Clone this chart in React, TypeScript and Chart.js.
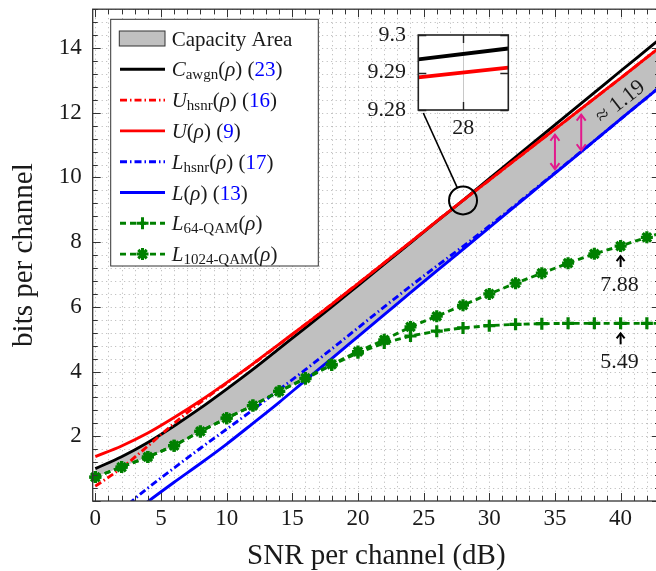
import React, { useEffect, useRef } from 'react';
import { Chart, registerables } from 'chart.js';

Chart.register(...registerables);

// ---------------- data ----------------
const snrDb = [0, 2, 4, 6, 8, 10, 12, 14, 16, 18, 20, 22, 24, 26, 28, 30, 32, 34, 36, 38, 40, 42, 44];
const cAwgn = [1.0, 1.37, 1.81, 2.32, 2.87, 3.46, 4.07, 4.71, 5.35, 6.0, 6.66, 7.32, 7.98, 8.64, 9.295, 9.96, 10.63, 11.29, 11.96, 12.62, 13.29, 13.95, 14.61];
const uBound = [1.37, 1.7, 2.1, 2.58, 3.1, 3.66, 4.24, 4.85, 5.46, 6.08, 6.72, 7.36, 8.0, 8.65, 9.289, 9.92, 10.55, 11.18, 11.81, 12.44, 13.07, 13.71, 14.34];
const uHsnr = [0.46, 1.02, 1.7, 2.4, 3.05, 3.64, 4.23, 4.84, 5.46, 6.08, 6.72, 7.36, 8.0, 8.65, 9.289, 9.92, 10.55, 11.18, 11.81, 12.44, 13.07, 13.71, 14.34];
const lHsnr = [-0.95, -0.27, 0.4, 1.02, 1.63, 2.22, 2.82, 3.44, 4.06, 4.7, 5.35, 6.0, 6.64, 7.26, 7.87, 8.5, 9.15, 9.81, 10.47, 11.13, 11.8, 12.47, 13.13];
const lBound = [-1.4, -0.66, -0.02, 0.58, 1.16, 1.76, 2.4, 3.05, 3.73, 4.4, 5.08, 5.76, 6.44, 7.11, 7.78, 8.45, 9.12, 9.79, 10.46, 11.13, 11.8, 12.47, 13.13];
const qam64 = [0.74, 1.05, 1.36, 1.71, 2.15, 2.56, 2.95, 3.39, 3.78, 4.2, 4.58, 4.88, 5.1, 5.25, 5.35, 5.42, 5.46, 5.48, 5.49, 5.49, 5.49, 5.49, 5.49];
const qam1024 = [0.74, 1.05, 1.36, 1.71, 2.15, 2.56, 2.95, 3.39, 3.8, 4.22, 4.62, 4.98, 5.38, 5.71, 6.05, 6.4, 6.73, 7.04, 7.35, 7.64, 7.88, 8.15, 8.4];

const xTickValues = [0, 5, 10, 15, 20, 25, 30, 35, 40];
const yTickValues = [2, 4, 6, 8, 10, 12, 14];

// inset (zoom at 28 dB)
const insetX = [27.995, 28.005];
const insetC = [9.2935, 9.2964];
const insetU = [9.2887, 9.2913];
const insetXTicks = [28];
const insetYTicks = [9.28, 9.29, 9.3];
const zoomPoint = { x: 28, y: 9.29 };

// annotations
const gapX = [35, 37];
const gapTop = [11.32, 11.94];
const gapBottom = [10.26, 10.84];
const gapLabel = '≈ 1.19';
const gapLabelAt = { x: 40, y: 12.33 };
const calloutX = [40, 40];
const calloutY = [7.88, 5.49];
const calloutText = ['7.88', '5.49'];

// ---------------- style ----------------
const SERIF = "'Liberation Serif', 'DejaVu Serif', serif";
const TEXT = '#1a1a1a';
const AXIS = '#333333';
const GRID = '#b4b4b4';
const GREEN = '#008000';
const RED = '#ff0000';
const BLUE = '#0000ff';
const BLACK = '#000000';
const AREA = '#c0c0c0';
const MAGENTA = '#e2198c';
const DASHDOT = [7, 3, 1.5, 3];
const DASHED = [6, 4];
const LW = 2.9;

const W = 670;
const H = 571;
const INSET = { left: 350, top: 15, width: 170, height: 135, boxL: 68.3, boxR: 158.3, boxT: 20, boxB: 95 };

const pts = (arr: number[]) => snrDb.map((x, i) => ({ x, y: arr[i] }));

type Seg = { t: string; f: string; c?: string; dy?: number };
function drawRich(ctx: CanvasRenderingContext2D, x: number, y: number, segs: Seg[]) {
  let cx = x;
  for (const s of segs) {
    ctx.font = s.f;
    ctx.fillStyle = s.c || TEXT;
    ctx.fillText(s.t, cx, y + (s.dy || 0));
    cx += ctx.measureText(s.t).width;
  }
}

function drawPlus(ctx: CanvasRenderingContext2D, x: number, y: number, r: number) {
  ctx.beginPath();
  ctx.moveTo(x - r, y); ctx.lineTo(x + r, y);
  ctx.moveTo(x, y - r); ctx.lineTo(x, y + r);
  ctx.stroke();
}
function drawStar(ctx: CanvasRenderingContext2D, x: number, y: number, r: number) {
  drawPlus(ctx, x, y, r);
  const d = r * Math.SQRT1_2;
  ctx.beginPath();
  ctx.moveTo(x - d, y - d); ctx.lineTo(x + d, y + d);
  ctx.moveTo(x - d, y + d); ctx.lineTo(x + d, y - d);
  ctx.stroke();
}

function arrowHead(ctx: CanvasRenderingContext2D, x: number, y: number, dir: number, len: number, half: number) {
  ctx.beginPath();
  ctx.moveTo(x - half, y - dir * len);
  ctx.lineTo(x, y);
  ctx.lineTo(x + half, y - dir * len);
  ctx.stroke();
}

const mainPlugin = {
  id: 'paperLook',
  beforeDraw(chart: any) {
    const { ctx, chartArea: a, scales } = chart;
    const xs = scales.x, ys = scales.y;
    ctx.save();
    ctx.fillStyle = '#ffffff';
    ctx.fillRect(0, 0, chart.width, chart.height);
    ctx.strokeStyle = GRID;
    ctx.lineWidth = 1;
    ctx.setLineDash([1, 3.5]);
    for (let v = 0; v <= 43; v += 1) {
      const px = Math.round(xs.getPixelForValue(v)) + 0.5;
      ctx.beginPath(); ctx.moveTo(px, a.top); ctx.lineTo(px, a.bottom); ctx.stroke();
    }
    for (let k = 1; k <= 38; k++) {
      const py = Math.round(ys.getPixelForValue(k * 0.4)) + 0.5;
      ctx.beginPath(); ctx.moveTo(a.left, py); ctx.lineTo(a.right, py); ctx.stroke();
    }
    ctx.restore();
  },
  afterDatasetsDraw(chart: any) {
    const { ctx, chartArea: a, scales } = chart;
    const xs = scales.x, ys = scales.y;
    ctx.save();
    ctx.strokeStyle = AXIS;
    ctx.lineWidth = 1;
    ctx.setLineDash([]);
    for (let v = 0; v <= 43; v += 1) {
      const len = v % 5 === 0 ? 8 : 5;
      const px = Math.round(xs.getPixelForValue(v)) + 0.5;
      ctx.beginPath();
      ctx.moveTo(px, a.bottom); ctx.lineTo(px, a.bottom - len);
      ctx.moveTo(px, a.top); ctx.lineTo(px, a.top + len);
      ctx.stroke();
    }
    for (let k = 0; k <= 38; k++) {
      const len = k % 5 === 0 ? 8 : 5;
      const py = Math.round(ys.getPixelForValue(k * 0.4)) + 0.5;
      ctx.beginPath();
      ctx.moveTo(a.left, py); ctx.lineTo(a.left + len, py);
      ctx.moveTo(a.right, py); ctx.lineTo(a.right - len, py);
      ctx.stroke();
    }
    ctx.lineWidth = 1.3;
    ctx.strokeRect(a.left, a.top, a.right - a.left, a.bottom - a.top);
    ctx.restore();
  },
  afterDraw(chart: any) {
    const { ctx, scales } = chart;
    const xs = scales.x, ys = scales.y;
    ctx.save();
    // zoom circle + connector
    const cx = xs.getPixelForValue(zoomPoint.x), cy = ys.getPixelForValue(zoomPoint.y);
    const r = 14;
    ctx.strokeStyle = BLACK;
    ctx.lineWidth = 2;
    ctx.beginPath(); ctx.arc(cx, cy, r, 0, Math.PI * 2); ctx.stroke();
    const sx = INSET.left + INSET.boxL + 5, sy = INSET.top + INSET.boxB + 3;
    const dx = sx - cx, dy = sy - cy, dl = Math.hypot(dx, dy);
    ctx.lineWidth = 1.6;
    ctx.beginPath(); ctx.moveTo(sx, sy); ctx.lineTo(cx + (dx / dl) * r, cy + (dy / dl) * r); ctx.stroke();

    // gap arrows
    ctx.strokeStyle = MAGENTA;
    ctx.lineWidth = 2;
    for (let i = 0; i < gapX.length; i++) {
      const px = xs.getPixelForValue(gapX[i]);
      const y1 = ys.getPixelForValue(gapTop[i]);
      const y2 = ys.getPixelForValue(gapBottom[i]);
      ctx.beginPath(); ctx.moveTo(px, y1); ctx.lineTo(px, y2); ctx.stroke();
      arrowHead(ctx, px, y1, -1, 6, 4.5);
      arrowHead(ctx, px, y2, 1, 6, 4.5);
    }
    // gap label rotated along the band
    const ang = Math.atan2(ys.getPixelForValue(uBound[21]) - ys.getPixelForValue(uBound[19]),
      xs.getPixelForValue(snrDb[21]) - xs.getPixelForValue(snrDb[19]));
    ctx.translate(xs.getPixelForValue(gapLabelAt.x), ys.getPixelForValue(gapLabelAt.y));
    ctx.rotate(ang);
    ctx.font = `22px ${SERIF}`;
    ctx.fillStyle = TEXT;
    ctx.textAlign = 'center';
    ctx.textBaseline = 'middle';
    ctx.fillText(gapLabel, 0, 0);
    ctx.setTransform(1, 0, 0, 1, 0, 0);

    // callouts
    ctx.strokeStyle = BLACK;
    ctx.lineWidth = 2;
    for (let i = 0; i < calloutX.length; i++) {
      const px = xs.getPixelForValue(calloutX[i]);
      const py = ys.getPixelForValue(calloutY[i]);
      ctx.beginPath(); ctx.moveTo(px, py + 21); ctx.lineTo(px, py + 10); ctx.stroke();
      arrowHead(ctx, px, py + 10, -1, 5, 4);
      ctx.font = `22px ${SERIF}`;
      ctx.fillStyle = TEXT;
      ctx.textAlign = 'center';
      ctx.textBaseline = 'middle';
      ctx.fillText(calloutText[i], px - 1, py + 39);
    }

    // legend
    const L = 110.7, T = 19.3, R = 318.3, B = 266;
    ctx.fillStyle = '#ffffff';
    ctx.fillRect(L, T, R - L, B - T);
    ctx.strokeStyle = AXIS;
    ctx.lineWidth = 1;
    ctx.strokeRect(L, T, R - L, B - T);
    const rowY = (i: number) => 38.5 + 30.8 * i;
    const x0 = 120, x1 = 165, tx = 171.7;
    const RF = `21px ${SERIF}`, IF = `italic 21px ${SERIF}`, SF = `15px ${SERIF}`;
    ctx.textAlign = 'left';
    ctx.textBaseline = 'alphabetic';
    ctx.fillStyle = AREA;
    ctx.fillRect(119.3, rowY(0) - 7.5, 45.7, 15);
    ctx.strokeStyle = AXIS;
    ctx.strokeRect(119.3, rowY(0) - 7.5, 45.7, 15);
    drawRich(ctx, tx, rowY(0) + 7, [{ t: 'Capacity Area', f: RF }]);
    const lineRow = (i: number, color: string, dash: number[]) => {
      ctx.strokeStyle = color; ctx.lineWidth = LW; ctx.setLineDash(dash);
      ctx.beginPath(); ctx.moveTo(x0, rowY(i)); ctx.lineTo(x1, rowY(i)); ctx.stroke();
      ctx.setLineDash([]);
    };
    const tail = (ref: string): Seg[] => [
      { t: '(', f: RF }, { t: 'ρ', f: IF }, { t: ')', f: RF },
      ...(ref ? [{ t: ' (', f: RF }, { t: ref, f: RF, c: BLUE }, { t: ')', f: RF }] : []),
    ];
    lineRow(1, BLACK, []);
    drawRich(ctx, tx, rowY(1) + 7, [{ t: 'C', f: IF }, { t: 'awgn', f: SF, dy: 3 }, ...tail('23')]);
    lineRow(2, RED, DASHDOT);
    drawRich(ctx, tx, rowY(2) + 7, [{ t: 'U', f: IF }, { t: 'hsnr', f: SF, dy: 3 }, ...tail('16')]);
    lineRow(3, RED, []);
    drawRich(ctx, tx, rowY(3) + 7, [{ t: 'U', f: IF }, ...tail('9')]);
    lineRow(4, BLUE, DASHDOT);
    drawRich(ctx, tx, rowY(4) + 7, [{ t: 'L', f: IF }, { t: 'hsnr', f: SF, dy: 3 }, ...tail('17')]);
    lineRow(5, BLUE, []);
    drawRich(ctx, tx, rowY(5) + 7, [{ t: 'L', f: IF }, ...tail('13')]);
    lineRow(6, GREEN, DASHED);
    ctx.strokeStyle = GREEN; ctx.lineWidth = 3;
    drawPlus(ctx, (x0 + x1) / 2, rowY(6), 6);
    drawRich(ctx, tx, rowY(6) + 7, [{ t: 'L', f: IF }, { t: '64-QAM', f: SF, dy: 3 }, ...tail('')]);
    lineRow(7, GREEN, DASHED);
    ctx.strokeStyle = GREEN; ctx.lineWidth = 3;
    drawStar(ctx, (x0 + x1) / 2, rowY(7), 6);
    drawRich(ctx, tx, rowY(7) + 7, [{ t: 'L', f: IF }, { t: '1024-QAM', f: SF, dy: 3 }, ...tail('')]);
    ctx.restore();
  },
};

const insetPlugin = {
  id: 'insetLook',
  beforeDatasetsDraw(chart: any) {
    const { ctx, chartArea: a, scales } = chart;
    ctx.save();
    ctx.fillStyle = '#ffffff';
    ctx.fillRect(a.left, a.top, a.right - a.left, a.bottom - a.top);
    ctx.strokeStyle = '#c8c8c8';
    ctx.lineWidth = 1;
    for (const v of insetXTicks) {
      const px = Math.round(scales.x.getPixelForValue(v)) + 0.5;
      ctx.beginPath(); ctx.moveTo(px, a.top); ctx.lineTo(px, a.bottom); ctx.stroke();
    }
    ctx.restore();
  },
  afterDatasetsDraw(chart: any) {
    const { ctx, chartArea: a, scales } = chart;
    ctx.save();
    ctx.strokeStyle = '#222222';
    ctx.lineWidth = 1.4;
    for (const v of insetXTicks) {
      const px = Math.round(scales.x.getPixelForValue(v)) + 0.5;
      ctx.beginPath();
      ctx.moveTo(px, a.top); ctx.lineTo(px, a.top + 8);
      ctx.moveTo(px, a.bottom); ctx.lineTo(px, a.bottom - 8);
      ctx.stroke();
    }
    for (const v of insetYTicks) {
      const py = Math.round(scales.y.getPixelForValue(v)) + 0.5;
      ctx.beginPath();
      ctx.moveTo(a.left, py); ctx.lineTo(a.left + 8, py);
      ctx.moveTo(a.right, py); ctx.lineTo(a.right - 8, py);
      ctx.stroke();
    }
    ctx.lineWidth = 1.6;
    ctx.strokeRect(a.left, a.top, a.right - a.left, a.bottom - a.top);
    ctx.restore();
  },
};

const zeroPad = (s: any) => { s.paddingLeft = 0; s.paddingRight = 0; s.paddingTop = 0; s.paddingBottom = 0; };

export default function App() {
  const mainRef = useRef<HTMLCanvasElement | null>(null);
  const insetRef = useRef<HTMLCanvasElement | null>(null);

  useEffect(() => {
    if (!mainRef.current || !insetRef.current) return;
    const upperArea = cAwgn.map((v, i) => Math.min(v, uBound[i]));
    const lowerArea = lBound.map((v, i) => Math.max(v, qam1024[i]));
    const noLine = 'rgba(0,0,0,0)';
    const lineDs = (label: string, data: number[], color: string, dash: number[]) => ({
      label, data: pts(data), borderColor: color, backgroundColor: color, borderWidth: LW,
      borderDash: dash, pointRadius: 0, cubicInterpolationMode: 'monotone', fill: false, clip: 0,
    });
    const main = new Chart(mainRef.current, {
      type: 'line',
      data: {
        datasets: [
          { label: 'L1024', data: pts(qam1024), borderColor: GREEN, backgroundColor: GREEN, borderWidth: LW,
            borderDash: DASHED, pointStyle: 'star', pointRadius: 6, pointBorderWidth: 3.2, tension: 0, fill: false,
            clip: { left: 10, top: 0, right: 0, bottom: 0 } },
          { label: 'L64', data: pts(qam64), borderColor: GREEN, backgroundColor: GREEN, borderWidth: LW,
            borderDash: DASHED, pointStyle: 'cross', pointRadius: 6, pointBorderWidth: 3.2, tension: 0, fill: false,
            clip: { left: 10, top: 0, right: 0, bottom: 0 } },
          lineDs('L', lBound, BLUE, []),
          lineDs('Lhsnr', lHsnr, BLUE, DASHDOT),
          lineDs('U', uBound, RED, []),
          lineDs('Uhsnr', uHsnr, RED, DASHDOT),
          lineDs('C', cAwgn, BLACK, []),
          { label: 'areaTop', data: pts(upperArea), borderColor: noLine, backgroundColor: AREA, borderWidth: 0,
            pointRadius: 0, cubicInterpolationMode: 'monotone', fill: '+1', clip: 0 },
          { label: 'areaBottom', data: pts(lowerArea), borderColor: noLine, backgroundColor: noLine, borderWidth: 0,
            pointRadius: 0, cubicInterpolationMode: 'monotone', fill: false, clip: 0 },
        ] as any,
      },
      options: {
        responsive: false,
        animation: false,
        devicePixelRatio: 1,
        events: [],
        layout: { padding: { left: 0, top: 3, right: 10, bottom: 0 } },
        plugins: { legend: { display: false }, tooltip: { enabled: false }, filler: { drawTime: 'beforeDatasetsDraw' } } as any,
        scales: {
          x: {
            type: 'linear', min: -0.2, max: 43,
            grid: { display: false, drawTicks: false }, border: { display: false },
            afterBuildTicks: (s: any) => { s.ticks = xTickValues.map((v) => ({ value: v })); },
            afterFit: (s: any) => { s.height = 70; zeroPad(s); },
            ticks: { font: { family: SERIF, size: 23 }, color: TEXT, padding: 4, maxRotation: 0, autoSkip: false,
              callback: (v: any) => String(v) },
            title: { display: true, text: 'SNR per channel (dB)', color: TEXT,
              font: { family: SERIF, size: 29, lineHeight: 1 }, padding: { top: 0, bottom: 0 } },
          },
          y: {
            type: 'linear', min: 0, max: 15.2,
            grid: { display: false, drawTicks: false }, border: { display: false },
            afterBuildTicks: (s: any) => { s.ticks = yTickValues.map((v) => ({ value: v })); },
            afterFit: (s: any) => { s.width = 92.7; zeroPad(s); },
            ticks: { font: { family: SERIF, size: 23 }, color: TEXT, padding: 11, autoSkip: false,
              callback: (v: any) => String(v) },
            title: { display: true, text: 'bits per channel', color: TEXT,
              font: { family: SERIF, size: 29, lineHeight: 1 }, padding: { top: 10, bottom: 0 } },
          },
        } as any,
      },
      plugins: [mainPlugin],
    });

    const inset = new Chart(insetRef.current, {
      type: 'line',
      data: {
        datasets: [
          { label: 'C', data: insetX.map((x, i) => ({ x, y: insetC[i] })), borderColor: BLACK, borderWidth: 4, pointRadius: 0, fill: false, clip: 0 },
          { label: 'U', data: insetX.map((x, i) => ({ x, y: insetU[i] })), borderColor: RED, borderWidth: 4, pointRadius: 0, fill: false, clip: 0 },
        ] as any,
      },
      options: {
        responsive: false,
        animation: false,
        devicePixelRatio: 1,
        events: [],
        layout: { padding: { left: 0, top: INSET.boxT, right: INSET.width - INSET.boxR, bottom: 0 } },
        plugins: { legend: { display: false }, tooltip: { enabled: false } },
        scales: {
          x: {
            type: 'linear', min: insetX[0], max: insetX[1],
            grid: { display: false, drawTicks: false }, border: { display: false },
            afterBuildTicks: (s: any) => { s.ticks = insetXTicks.map((v) => ({ value: v })); },
            afterFit: (s: any) => { s.height = INSET.height - INSET.boxB; zeroPad(s); },
            ticks: { font: { family: SERIF, size: 22 }, color: TEXT, padding: 4.8, maxRotation: 0, autoSkip: false,
              callback: (v: any) => String(v) },
          },
          y: {
            type: 'linear', min: insetYTicks[0], max: insetYTicks[2],
            grid: { display: false, drawTicks: false }, border: { display: false },
            afterBuildTicks: (s: any) => { s.ticks = insetYTicks.map((v) => ({ value: v })); },
            afterFit: (s: any) => { s.width = INSET.boxL; zeroPad(s); },
            ticks: { font: { family: SERIF, size: 22 }, color: TEXT, padding: 12.3, autoSkip: false,
              callback: (v: any) => String(v) },
          },
        } as any,
      },
      plugins: [insetPlugin],
    });

    return () => { main.destroy(); inset.destroy(); };
  }, []);

  return (
    <div style={{ position: 'absolute', left: 0, top: 0, width: 656, height: 571, overflow: 'hidden', background: '#fff' }}>
      <canvas ref={mainRef} width={W} height={H} style={{ position: 'absolute', left: 0, top: 0, width: W, height: H }} />
      <canvas ref={insetRef} width={INSET.width} height={INSET.height}
        style={{ position: 'absolute', left: INSET.left, top: INSET.top, width: INSET.width, height: INSET.height }} />
    </div>
  );
}
